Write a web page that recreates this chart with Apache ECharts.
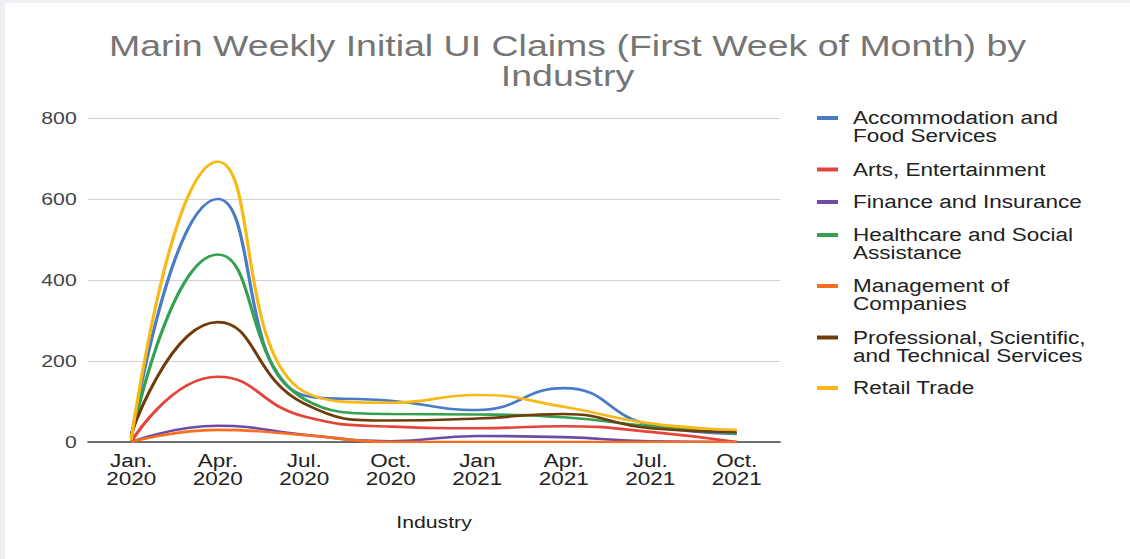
<!DOCTYPE html>
<html>
<head>
<meta charset="utf-8">
<script src="https://cdn.jsdelivr.net/npm/echarts@6/dist/echarts.min.js"></script>
<style>
  html, body { margin: 0; padding: 0; }
  body { width: 1130px; height: 559px; background: #eff0f3; position: relative; overflow: hidden; }
  #frame { position: absolute; left: 5px; top: 3px; width: 1125px; height: 556px; background: #fff; overflow: hidden; }
  /* the picture is a bit wider than tall, so draw narrow and stretch */
  #chart { width: 900px; height: 556px; transform: scaleX(1.25); transform-origin: 0 0; }
</style>
</head>
<body>
<div id="frame"><div id="chart"></div></div>
<script>
// 月份
var months = ['Jan.\n2020', 'Apr.\n2020', 'Jul.\n2020', 'Oct.\n2020', 'Jan\n2021', 'Apr.\n2021', 'Jul.\n2021', 'Oct.\n2021'];
// 各行业数据
var accommodation = [10, 600, 115, 102, 79, 133, 42, 20];
var arts = [0, 161, 63, 38, 34, 39, 25, 0];
var finance = [0, 40, 18, 2, 15, 12, 2, 0];
var healthcare = [10, 463, 106, 69, 68, 61, 39, 21];
var management = [0, 30, 17, 0, 0, 0, 0, 0];
var professional = [20, 296, 95, 53, 58, 69, 34, 25];
var retail = [5, 692, 124, 97, 116, 87, 46, 30];
var yTicks = [0, 200, 400, 600, 800];

var names = ['Accommodation and Food Services', 'Arts, Entertainment', 'Finance and Insurance',
    'Healthcare and Social Assistance', 'Management of Companies',
    'Professional, Scientific, and Technical Services', 'Retail Trade'];
var legendText = ['Accommodation and\nFood Services', 'Arts, Entertainment', 'Finance and Insurance',
    'Healthcare and Social\nAssistance', 'Management of\nCompanies',
    'Professional, Scientific,\nand Technical Services', 'Retail Trade'];
var values = [accommodation, arts, finance, healthcare, management, professional, retail];
var colors = ['#4a7bc8', '#e5443a', '#6d4ba8', '#34a150', '#fa6e1e', '#703c0c', '#f9b914'];
var legendTop = [88, 157.5, 190, 205, 256, 307.5, 376];

var font = '"Liberation Sans", Arial, sans-serif';

function seriesData() {
    var arr = [];
    for (var i = 0; i < names.length; i++) {
        arr.push({
            name: names[i],
            type: 'line',
            smooth: 0.5,
            showSymbol: false,
            lineStyle: { width: 2.6, color: colors[i] },
            itemStyle: { color: colors[i] },
            data: values[i]
        });
    }
    return arr;
}

//图例：两行的文字让第一行对齐图标
function legends() {
    var arr = [];
    for (var i = 0; i < names.length; i++) {
        var twoLines = legendText[i].indexOf('\n') > -1;
        var txt = twoLines ? '\n' + legendText[i] : legendText[i];
        arr.push({
            data: [names[i]],
            orient: 'vertical',
            left: 649.6,
            top: legendTop[i],
            padding: 0,
            icon: 'rect',
            itemWidth: 16.8,
            itemHeight: 4,
            selectedMode: false,
            formatter: (function (t) { return function () { return t; }; })(txt),
            textStyle: {
                fontFamily: font,
                fontSize: 18,
                lineHeight: 18,
                color: '#222',
                padding: [0, 0, 0, 7]
            }
        });
    }
    return arr;
}

var chart = echarts.init(document.getElementById('chart'), null, { renderer: 'svg' });
var option = {
    animation: false,
    backgroundColor: '#fff',
    title: {
        text: 'Marin Weekly Initial UI Claims (First Week of Month) by\nIndustry',
        left: 'center',
        top: 27,
        padding: 0,
        textStyle: {
            fontFamily: font,
            fontSize: 30,
            lineHeight: 30,
            fontWeight: 'normal',
            color: '#757575'
        }
    },
    legend: legends(),
    grid: {
        left: 66.4,
        right: 280,
        top: 115,
        bottom: 117
    },
    xAxis: {
        type: 'category',
        boundaryGap: true,
        data: months,
        name: 'Industry',
        nameLocation: 'middle',
        nameGap: 72,
        nameTextStyle: { fontFamily: font, fontSize: 17, color: '#222' },
        axisTick: { show: false },
        axisLine: { lineStyle: { color: '#444', width: 1.5 } },
        axisLabel: { fontFamily: font, fontSize: 18, lineHeight: 18, color: '#222', margin: 10 }
    },
    yAxis: {
        type: 'value',
        min: yTicks[0],
        max: yTicks[yTicks.length - 1],
        interval: 200,
        axisLine: { show: false },
        axisTick: { show: false },
        splitLine: { lineStyle: { color: '#d0d0d0', width: 1 } },
        axisLabel: { fontFamily: font, fontSize: 17, color: '#444', margin: 9 }
    },
    series: seriesData()
};
chart.setOption(option);
</script>
</body>
</html>
